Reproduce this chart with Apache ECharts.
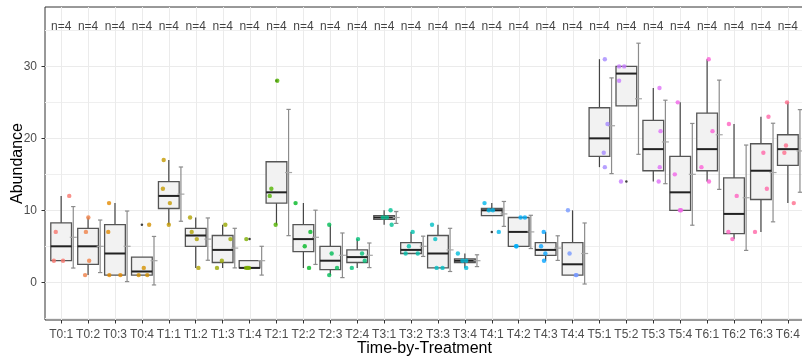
<!DOCTYPE html>
<html><head><meta charset="utf-8">
<script src="https://cdn.jsdelivr.net/npm/echarts@6/dist/echarts.min.js"></script>
<style>html,body{margin:0;padding:0;background:#fff}#c{width:802px;height:357px}</style>
</head><body><div id="c"></div>
<script>
const categories = ['T0:1','T0:2','T0:3','T0:4','T1:1','T1:2','T1:3','T1:4','T2:1','T2:2','T2:3','T2:4','T3:1','T3:2','T3:3','T3:4','T4:1','T4:2','T4:3','T4:4','T5:1','T5:2','T5:3','T5:4','T6:1','T6:2','T6:3','T6:4'];
const whiskerLow = [3,1,1,1,8,2,2,2,8,2,1,2,8,4,2,2,9.25,5,3,1,16,24.5,14,10,14,6,7,11];
const q1 = [3,2.5,1,1,10.25,5,2.75,2,11,4.25,1.75,2.75,8.75,4,2,2.75,9.25,5,3.75,1,17.5,24.5,15.5,10,15.5,6.75,11.5,16.25];
const median = [5,5,4,1.5,12,6.5,4.5,2,12.5,6,3,3.5,9,4.5,4,3,10,7,4.5,2.5,20,29,18.5,12.5,18.5,9.5,15.5,18.5];
const q3 = [8.25,7.5,8,3.5,14,7.5,6.5,3,16.75,8,5,4.5,9.25,5.5,6.5,3.25,10.25,9,5.5,5.5,24.25,30,22.5,17.5,23.5,14.5,19.25,20.5];
const whiskerHigh = [12,9,11,3.5,17,9,8,3,16.75,11,8,6,10,7,8,4,11,9,7,10,31,30,27,25,31,22,23,25];
const means = [6.25,5,5,3,12.25,6,4.75,3,15.25,6.25,3.75,3.75,9,5,4.5,3,9.5,7,4.75,4,21.75,25.5,19.5,15,20.5,11.75,15.25,18.25];
const sds = [4.27,3.65,4.90,3.37,3.77,2.94,2.75,2.00,8.77,3.77,3.10,1.71,0.82,1.41,3.00,0.82,1.73,2.31,1.71,4.24,6.65,7.72,5.80,7.07,7.59,7.32,6.85,5.74];
const outliers = [[3,8],[7,6],[8,28],[16,7],[21,14]];
const pointValues = [
  [12,7,3,3],[9,7,3,1],[11,7,1,1],[8,2,1,1],
  [17,13,11,8],[9,7,6,2],[8,6,3,2],[6,2,2,2],
  [28,13,12,8],[11,7,5,2],[8,4,2,1],[6,4,3,2],
  [10,9,9,8],[7,5,4,4],[8,6,2,2],[4,3,3,2],
  [11,10,10,7],[9,9,5,5],[7,5,4,3],[10,4,1,1],
  [31,22,18,16],[30,30,28,14],[27,21,16,14],[25,15,10,10],
  [31,21,16,14],[22,12,7,6],[23,18,13,7],[25,19,18,11]
];
const pointJitter = [
  [0.30,-0.20,-0.27,0.07],[0.01,-0.08,0.04,-0.11],[-0.22,-0.25,-0.21,0.20],[0.27,0.07,-0.12,0.20],
  [-0.19,-0.22,0.04,0.00],[-0.21,-0.15,0.04,0.10],[0.10,0.29,-0.03,-0.21],[-0.12,-0.13,-0.07,-0.02],
  [0.03,-0.19,-0.25,-0.03],[-0.29,0.26,0.05,0.21],[-0.04,0.05,0.25,-0.04],[0.03,0.18,0.28,-0.20],
  [0.24,0.10,-0.05,0.28],[0.06,-0.08,-0.20,0.25],[-0.22,-0.10,-0.05,0.17],[-0.26,-0.09,0.05,0.05],
  [-0.27,-0.11,0.04,0.26],[0.07,0.23,-0.08,-0.10],[-0.07,-0.17,-0.01,-0.06],[-0.17,-0.11,0.12,0.15],
  [0.20,0.30,0.16,0.20],[-0.27,-0.08,-0.27,-0.20],[0.23,0.27,0.24,0.20],[-0.09,-0.20,-0.01,0.03],
  [0.06,0.20,-0.21,0.07],[-0.19,0.10,-0.21,-0.06],[0.28,0.09,0.22,-0.22],[-0.03,-0.07,-0.13,0.22]
];
const sampleSizes = [4,4,4,4,4,4,4,4,4,4,4,4,4,4,4,4,4,4,4,4,4,4,4,4,4,4,4,4];
const nLabelY = 35.5;
const yTicks = [0,10,20,30];
const yMinor = [-5,5,15,25,35];
const xTicks = categories.map((c,i)=>i);

// ggplot-like hue palette (style only)
function hcl(h, c, l) {
  const hr = h*Math.PI/180, U = c*Math.cos(hr), V = c*Math.sin(hr);
  const Xn=0.95047, Yn=1, Zn=1.08883;
  const Y = Yn*Math.pow((l+16)/116,3);
  const t = Xn+15*Yn+3*Zn, un=4*Xn/t, vn=9*Yn/t;
  const u = U/(13*l)+un, v = V/(13*l)+vn;
  const X = 9*Y*u/(4*v), Z = -X/3-5*Y+3*Y/v;
  const lin = [3.240479*X-1.537150*Y-0.498535*Z, -0.969256*X+1.875992*Y+0.041556*Z, 0.055648*X-0.204043*Y+1.057311*Z];
  const g = x => { x = Math.max(0, Math.min(1, x)); return x<=0.0031308?12.92*x:1.055*Math.pow(x,1/2.4)-0.055; };
  return 'rgb(' + lin.map(x=>Math.round(g(x)*255)).join(',') + ')';
}
const palette = categories.map((c,i)=>hcl(15 + i*360/categories.length, 100, 65));

const FONT = 'Liberation Sans, Arial, sans-serif';
const Y_MIN = -5.24, Y_MAX = 38.25;
const boxData = categories.map((c,i)=>[i, whiskerLow[i], q1[i], median[i], q3[i], whiskerHigh[i]]);
const errData = categories.map((c,i)=>[i, means[i], sds[i]]);
const pointData = [];
pointValues.forEach((vals,i)=>vals.forEach((v,k)=>pointData.push({value:[i+pointJitter[i][k], v], itemStyle:{color:palette[i]}})));
const nData = sampleSizes.map((n,i)=>[i, nLabelY, n]);

const chart = echarts.init(document.getElementById('c'), null, {renderer:'canvas'});
chart.setOption({
  animation:false,
  grid:{left:45, top:7, width:759, height:313, show:true, borderColor:'#333333', borderWidth:1, backgroundColor:'#ffffff', containLabel:false, outerBoundsMode:'none'},
  xAxis:[{
    type:'value', min:-0.6, max:27.6, position:'bottom',
    axisLine:{show:false, onZero:false},
    axisTick:{show:true, length:3.5, lineStyle:{color:'#333333', width:1}, customValues:xTicks},
    axisLabel:{show:true, customValues:xTicks, formatter:v=>categories[Math.round(v)], color:'#4d4d4d', fontSize:12, fontFamily:FONT, margin:9, hideOverlap:false},
    splitLine:{show:false},
    name:'Time-by-Treatment', nameLocation:'middle', nameGap:21, nameMoveOverlap:false,
    nameTextStyle:{color:'#000', fontSize:16, fontFamily:FONT}
  }],
  yAxis:[{
    type:'value', min:Y_MIN, max:Y_MAX, position:'left',
    axisLine:{show:false, onZero:false},
    axisTick:{show:true, length:3.5, lineStyle:{color:'#333333', width:1}, customValues:yTicks},
    axisLabel:{show:true, customValues:yTicks, color:'#4d4d4d', fontSize:12, fontFamily:FONT, margin:8},
    splitLine:{show:true, lineStyle:{color:'#ebebeb', width:1}},
    name:'Abundance', nameLocation:'middle', nameGap:19, nameRotate:90, nameMoveOverlap:false,
    nameTextStyle:{color:'#000', fontSize:16, fontFamily:FONT}
  },{
    type:'value', min:Y_MIN, max:Y_MAX, position:'left',
    axisLine:{show:false, onZero:false}, axisTick:{show:false, customValues:yMinor},
    axisLabel:{show:false, customValues:yMinor},
    splitLine:{show:true, lineStyle:{color:'#efefef', width:1}}
  }],
  series:[
    {
      type:'custom', z:1, data:xTicks, silent:true,
      renderItem:(params, api)=>{
        const x = api.value(0);
        const p1 = api.coord([x, Y_MIN]), p2 = api.coord([x, Y_MAX]);
        const px = Math.round(p1[0]) + 0.5;
        return {type:'line', shape:{x1:px, y1:p1[1], x2:px, y2:p2[1]}, style:{stroke:'#ebebeb', lineWidth:1}};
      }
    },
    {
      type:'custom', z:2, data:boxData, encode:{x:0, y:[1,2,3,4,5]},
      renderItem:(params, api)=>{
        const x = api.value(0), lo = api.value(1), a = api.value(2), m = api.value(3), b = api.value(4), hi = api.value(5);
        const hw = 0.385;
        const tl = api.coord([x-hw, b]), br = api.coord([x+hw, a]);
        const pHi = api.coord([x, hi]), pB = api.coord([x, b]), pA = api.coord([x, a]), pLo = api.coord([x, lo]);
        const ml = api.coord([x-hw, m]), mr = api.coord([x+hw, m]);
        const ws = {stroke:'#444444', lineWidth:1.2};
        return {type:'group', children:[
          {type:'line', shape:{x1:pB[0], y1:pB[1], x2:pHi[0], y2:pHi[1]}, style:ws},
          {type:'line', shape:{x1:pA[0], y1:pA[1], x2:pLo[0], y2:pLo[1]}, style:ws},
          {type:'rect', shape:{x:tl[0], y:tl[1], width:br[0]-tl[0], height:br[1]-tl[1]}, style:{fill:'#f2f2f2', stroke:'#555555', lineWidth:1.3}},
          {type:'line', shape:{x1:ml[0], y1:ml[1], x2:mr[0], y2:mr[1]}, style:{stroke:'#222222', lineWidth:2}}
        ]};
      }
    },
    {
      type:'custom', z:3, data:errData, encode:{x:0, y:1},
      renderItem:(params, api)=>{
        const x = api.value(0) + 0.45, mu = api.value(1), s = api.value(2);
        const top = api.coord([x, mu+s]), bot = api.coord([x, mu-s]);
        const cw = api.size([0.08, 0])[0], mw = api.size([0.13, 0])[0];
        const mp = api.coord([x, mu]);
        const st = {stroke:'#8c8c8c', lineWidth:1.2};
        return {type:'group', children:[
          {type:'line', shape:{x1:top[0], y1:top[1], x2:bot[0], y2:bot[1]}, style:st},
          {type:'line', shape:{x1:top[0]-cw, y1:top[1], x2:top[0]+cw, y2:top[1]}, style:st},
          {type:'line', shape:{x1:bot[0]-cw, y1:bot[1], x2:bot[0]+cw, y2:bot[1]}, style:st},
          {type:'line', shape:{x1:mp[0]-mw, y1:mp[1], x2:mp[0]+mw, y2:mp[1]}, style:{stroke:'#a6a6a6', lineWidth:1.2}}
        ]};
      }
    },
    {
      type:'scatter', z:4, data:outliers, symbol:'circle', symbolSize:2.5,
      itemStyle:{color:'#111111'}, silent:true
    },
    {
      type:'scatter', z:5, data:pointData, symbol:'circle', symbolSize:4.4,
      itemStyle:{opacity:0.8}, silent:true
    },
    {
      type:'scatter', z:6, data:nData, symbolSize:0, silent:true,
      label:{show:true, position:'inside', formatter:p=>'n=' + p.value[2], color:'#111111', fontSize:12, fontFamily:FONT}
    }
  ]
});
</script></body></html>
